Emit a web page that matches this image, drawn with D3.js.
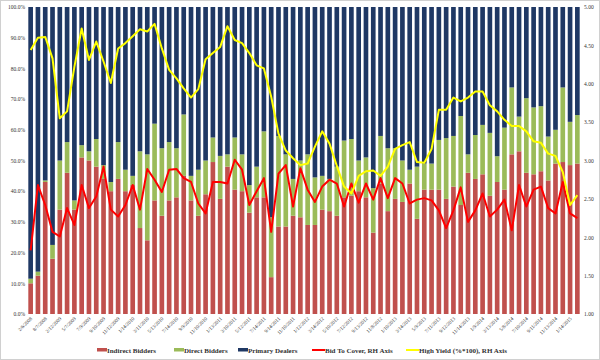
<!DOCTYPE html>
<html><head><meta charset="utf-8">
<script src="https://cdn.jsdelivr.net/npm/d3@7"></script>
<style>body{margin:0;background:#fff} text{font-family:"Liberation Serif","Times New Roman",serif}</style>
</head><body><svg id="c" width="600" height="360"></svg>
<script>
const categories = ["2/6/2008","5/8/2008","8/7/2008","11/13/2008","2/12/2009","3/12/2009","5/7/2009","6/11/2009","7/9/2009","8/13/2009","9/10/2009","10/8/2009","11/12/2009","12/10/2009","1/14/2010","2/11/2010","3/11/2010","4/8/2010","5/13/2010","6/10/2010","7/14/2010","8/12/2010","9/9/2010","10/14/2010","11/10/2010","12/9/2010","1/13/2011","2/10/2011","3/10/2011","4/14/2011","5/12/2011","6/9/2011","7/14/2011","8/11/2011","9/14/2011","10/13/2011","11/10/2011","12/8/2011","1/12/2012","2/9/2012","3/14/2012","4/12/2012","5/10/2012","6/14/2012","7/12/2012","8/9/2012","9/13/2012","10/11/2012","11/8/2012","12/13/2012","1/10/2013","2/7/2013","3/14/2013","4/11/2013","5/9/2013","6/13/2013","7/11/2013","8/15/2013","9/12/2013","10/10/2013","11/14/2013","12/12/2013","1/9/2014","2/13/2014","3/13/2014","4/10/2014","5/8/2014","6/12/2014","7/10/2014","8/14/2014","9/11/2014","10/9/2014","11/13/2014","12/11/2014","1/14/2015","2/12/2015"];
const indirect = [10,12.5,43,18,34,46,34,51,50,48,44,40,44,40,42,28,24,37,32,37,38,45,37,32,39,49.5,37.5,48,40.5,40,33,38,38,12,28.5,28.5,32,31.5,29,29,34,33.5,32,38,38.5,40,38,26.5,42.5,33.5,37.5,36.5,42.5,31,40.5,40.5,40.5,37.5,41.5,35.5,46,44,45.5,38.5,43,40.5,52,53,46,45.5,46.5,43.5,49,49.5,48.5,49];
const direct = [1.5,1.3,0.5,4.5,16,10,3,4,3,9,4.5,3,12,7,3,25,28,25,22,19,16,20,8,15,11,8,14,4,17,12,9,10,21.5,19.5,29.5,23.5,12,18.5,23,15.5,11,10.5,16,18.5,18.5,10,13,14.5,15.5,20.5,16.5,13.5,4.5,17,8.5,8.5,16.2,19.8,16.5,29,6,14.3,16.1,20.5,8.4,20.2,21.8,11.3,24.3,21.8,21.2,14.3,11,24.3,14.1,15.8];
const primary = [88.5,86.2,56.5,77.5,50,44,63,45,47,43,51.5,57,44,53,55,47,48,38,46,44,46,35,55,53,50,42.5,48.5,48,42.5,48,58,52,40.5,68.5,42,48,56,50,48,55.5,55,56,52,43.5,43,50,49,59,42,46,46,50,53,52,51,51,43.3,42.7,42,35.5,48,41.7,38.4,41,48.6,39.3,26.2,35.7,29.7,32.7,32.3,42.2,40,26.2,37.4,35.2];
const bidToCover = [1.83,2.68,2.42,2.07,2.01,2.38,2.16,2.68,2.38,2.53,2.92,2.36,2.27,2.42,2.68,2.36,2.89,2.75,2.59,2.88,2.89,2.77,2.72,2.44,2.31,2.72,2.72,2.70,3.01,2.88,2.42,2.60,2.77,2.07,2.83,2.94,2.40,2.90,2.62,2.46,2.66,2.75,2.70,2.40,2.70,2.45,2.70,2.49,2.77,2.51,2.77,2.70,2.44,2.49,2.51,2.48,2.35,2.12,2.35,2.65,2.20,2.35,2.57,2.27,2.36,2.49,2.09,2.68,2.40,2.62,2.66,2.38,2.31,2.72,2.31,2.25];
const highYield = [4.44,4.60,4.61,4.33,3.55,3.64,4.22,4.72,4.31,4.55,4.29,4.01,4.46,4.53,4.62,4.71,4.68,4.78,4.46,4.18,4.07,3.94,3.82,3.93,4.32,4.40,4.48,4.75,4.57,4.53,4.40,4.24,4.20,3.83,3.35,3.13,3.03,2.94,2.96,3.18,3.38,3.22,2.93,2.66,2.57,2.80,2.86,2.87,2.80,2.92,3.15,3.20,3.24,2.98,2.97,3.15,3.66,3.66,3.82,3.77,3.82,3.90,3.90,3.72,3.64,3.53,3.45,3.45,3.38,3.25,3.23,3.09,3.06,2.85,2.42,2.55];
const leftTicks = [0,10,20,30,40,50,60,70,80,90,100];
const rightTicks = [1,1.5,2,2.5,3,3.5,4,4.5,5];
const seriesNames = ["Indirect Bidders","Direct Bidders","Primary Dealers"];
const lineNames = ["Bid To Cover, RH Axis","High Yield (%*100), RH Axis"];

const colors = {ind:"#C0504D", dir:"#9BBB59", pd:"#1F3864", btc:"#FF0000", hy:"#FFFF00"};
const svg = d3.select("#c");
const L=27, R=581, T=7, B=314;

svg.append("rect").attr("x",0.5).attr("y",0.5).attr("width",599).attr("height",359)
  .attr("fill","#fff").attr("stroke","#d0d0d0");

const x = d3.scaleBand().domain(categories).range([L,R]).paddingInner(0.36).paddingOuter(0.18);
const yL = d3.scaleLinear().domain([0,100]).range([B,T]);
const yR = d3.scaleLinear().domain([1,5]).range([B,T]);

const rows = categories.map((c,i)=>({cat:c, ind:indirect[i], dir:direct[i], pd:primary[i]}));
const stack = d3.stack().keys(["ind","dir","pd"]).offset(d3.stackOffsetExpand);
const layers = stack(rows);

svg.append("g").selectAll("g").data(layers).join("g")
  .attr("fill",d=>colors[d.key])
  .selectAll("rect").data(d=>d).join("rect")
  .attr("x",d=>x(d.data.cat))
  .attr("width",x.bandwidth())
  .attr("y",d=>yL(d[1]*100))
  .attr("height",d=>yL(d[0]*100)-yL(d[1]*100));

const cx = c => x(c)+x.bandwidth()/2;
const lineBtc = d3.line().x((d,i)=>cx(categories[i])).y(d=>yR(d));
svg.append("path").datum(bidToCover).attr("d",lineBtc).attr("fill","none")
  .attr("stroke",colors.btc).attr("stroke-width",2).attr("stroke-linejoin","round");
svg.append("path").datum(highYield).attr("d",lineBtc).attr("fill","none")
  .attr("stroke",colors.hy).attr("stroke-width",2).attr("stroke-linejoin","round");

// left axis
const axL = d3.axisLeft(yL).tickValues(leftTicks).tickFormat(d=>d.toFixed(1)+"%").tickSize(0).tickPadding(2);
const gL = svg.append("g").attr("transform",`translate(${L},0)`).call(axL);
gL.select(".domain").remove();
gL.selectAll("text").attr("font-size",5.5).attr("fill","#333").style("font-family","'Liberation Serif',serif");

const axR = d3.axisRight(yR).tickValues(rightTicks).tickFormat(d3.format(".2f")).tickSize(0).tickPadding(3);
const gR = svg.append("g").attr("transform",`translate(${R},0)`).call(axR);
gR.select(".domain").remove();
gR.selectAll("text").attr("font-size",5.5).attr("fill","#333").style("font-family","'Liberation Serif',serif");

// x axis labels
const xTicks = categories.filter((c,i)=>i%2===0);
const axX = d3.axisBottom(x).tickValues(xTicks).tickSize(0).tickPadding(0);
const gX = svg.append("g").attr("transform",`translate(0,${B})`).call(axX);
gX.select(".domain").remove();
gX.selectAll("text").attr("font-size",5).attr("fill","#333")
  .style("font-family","'Liberation Serif',serif")
  .attr("text-anchor","end").attr("dy",0)
  .attr("transform","translate(2,5) rotate(-45)");

// legend
const lg = svg.append("g").attr("font-size",7).attr("font-weight","bold").attr("fill","#333");
const legendItems = [
  {name:seriesNames[0], kind:"bar", color:colors.ind, x:97},
  {name:seriesNames[1], kind:"bar", color:colors.dir, x:174},
  {name:seriesNames[2], kind:"bar", color:colors.pd, x:238},
  {name:lineNames[0], kind:"line", color:colors.btc, x:312},
  {name:lineNames[1], kind:"line", color:colors.hy, x:406}
];
const ly = 350;
legendItems.forEach(it=>{
  if(it.kind==="bar"){
    lg.append("rect").attr("x",it.x).attr("y",ly-2).attr("width",10).attr("height",3.5).attr("fill",it.color);
    lg.append("text").attr("x",it.x+10).attr("y",ly+2.5).text(it.name);
  } else {
    lg.append("line").attr("x1",it.x).attr("x2",it.x+13).attr("y1",ly).attr("y2",ly)
      .attr("stroke",it.color).attr("stroke-width",2);
    lg.append("text").attr("x",it.x+13).attr("y",ly+2.5).text(it.name);
  }
});
</script></body></html>
